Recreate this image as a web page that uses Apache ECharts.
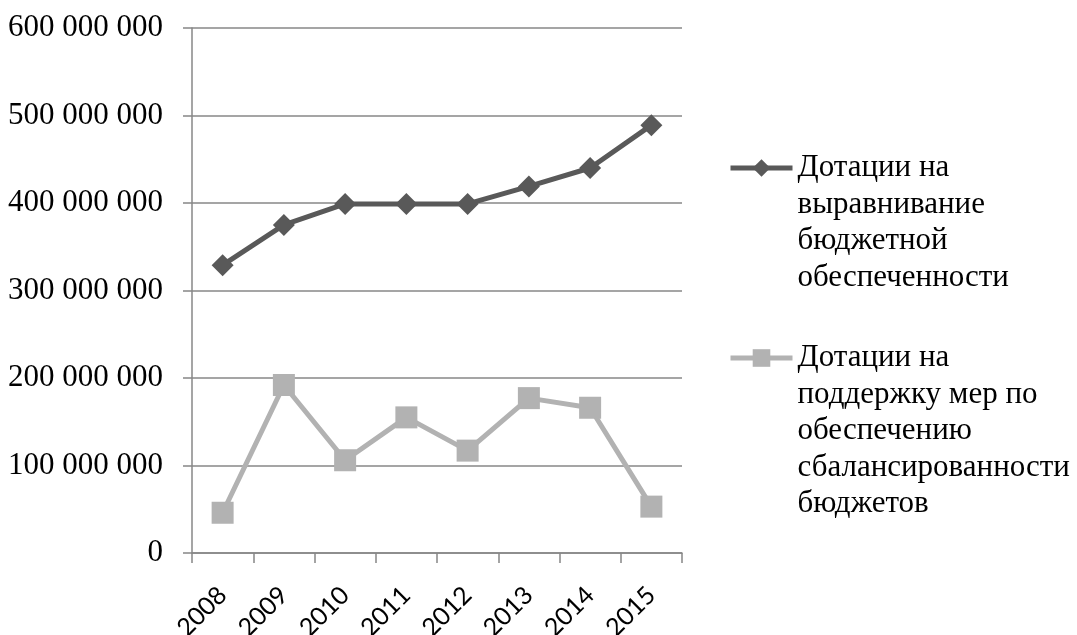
<!DOCTYPE html>
<html>
<head>
<meta charset="utf-8">
<script src="https://cdn.jsdelivr.net/npm/echarts@6/dist/echarts.min.js"></script>
<style>
  html, body { margin: 0; padding: 0; background: #fff; }
  #chart { width: 1077px; height: 635px; }
</style>
</head>
<body>
<div id="chart"></div>
<script>
// Годы
const years = ['2008', '2009', '2010', '2011', '2012', '2013', '2014', '2015'];

// Дотации на выравнивание бюджетной обеспеченности, руб.
const equalization = [329000000, 375000000, 399000000, 399000000, 399000000, 419000000, 440000000, 489000000];

// Дотации на поддержку мер по обеспечению сбалансированности бюджетов, руб.
const balance = [46000000, 192000000, 106000000, 155000000, 117000000, 177000000, 166000000, 53000000];

// Названия рядов (в легенде с переносами строк)
const seriesNames = [
  'Дотации на выравнивание бюджетной обеспеченности',
  'Дотации на поддержку мер по обеспечению сбалансированности бюджетов'
];
const legendLines = [
  ['Дотации на', 'выравнивание', 'бюджетной', 'обеспеченности'],
  ['Дотации на', 'поддержку мер по', 'обеспечению', 'сбалансированности', 'бюджетов']
];

const darkColor = '#595959';
const lightColor = '#b2b2b2';
const gridColor = '#878787';
const serif = '"Liberation Serif", "Times New Roman", serif';
const LH = 36.5;

function spaced(v) {
  return String(v).replace(/\B(?=(\d{3})+(?!\d))/g, ' ');
}

// Легенда: пустые строки сверху ставят первую строку подписи напротив значка
function legendFor(idx, iconY) {
  const n = legendLines[idx].length;
  const lead = '\n'.repeat(n - 1);
  const boxH = (2 * n - 1) * LH;
  return {
    orient: 'vertical',
    left: 728,
    top: iconY - boxH / 2,
    padding: 0,
    itemWidth: 62,
    itemHeight: 22,
    data: [seriesNames[idx]],
    formatter: () => lead + legendLines[idx].join('\n'),
    lineStyle: { width: 5 },
    textStyle: {
      fontFamily: serif,
      fontSize: 31,
      color: '#000',
      lineHeight: LH
    }
  };
}

const chart = echarts.init(document.getElementById('chart'));
chart.setOption({
  animation: false,
  backgroundColor: '#fff',
  grid: {
    left: 192, right: 395, top: 28, bottom: 82,
    containLabel: false,
    outerBoundsMode: 'none'
  },
  legend: [legendFor(0, 168), legendFor(1, 358)],
  xAxis: {
    type: 'category',
    data: years,
    boundaryGap: true,
    axisLine: { lineStyle: { color: gridColor, width: 1.5 } },
    axisTick: { show: true, length: 10, lineStyle: { color: gridColor, width: 1.5 } },
    axisLabel: {
      rotate: 45,
      margin: 38,
      fontFamily: 'Lato, "Open Sans", sans-serif',
      fontSize: 25,
      color: '#000'
    }
  },
  yAxis: {
    type: 'value',
    min: 0,
    max: 600000000,
    interval: 100000000,
    axisLine: { show: true, lineStyle: { color: gridColor, width: 1.5 } },
    axisTick: { show: true, length: 9, lineStyle: { color: gridColor, width: 1.5 } },
    splitLine: { show: true, lineStyle: { color: gridColor, width: 1.5 } },
    axisLabel: {
      margin: 29,
      fontFamily: serif,
      fontSize: 31,
      color: '#000',
      formatter: spaced
    }
  },
  series: [
    {
      name: seriesNames[0],
      type: 'line',
      data: equalization,
      symbol: 'diamond',
      symbolSize: 22,
      lineStyle: { color: darkColor, width: 5 },
      itemStyle: { color: darkColor }
    },
    {
      name: seriesNames[1],
      type: 'line',
      data: balance,
      symbol: 'rect',
      symbolSize: 22,
      lineStyle: { color: lightColor, width: 5 },
      itemStyle: { color: lightColor }
    }
  ]
});
</script>
</body>
</html>
